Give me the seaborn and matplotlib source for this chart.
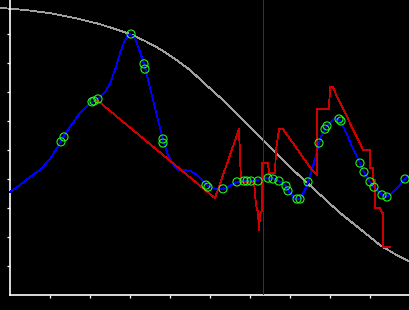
import matplotlib
matplotlib.use("Agg")
import matplotlib.pyplot as plt
import seaborn as sns
import pandas as pd

# ---- data ----
gray_x = [-0.25, 0.375, 1.0, 1.625, 2.25, 2.625, 3.0, 3.375, 3.75, 4.125, 4.5, 4.875,
          5.325, 5.825, 6.325, 7.0, 7.625, 8.25, 8.75, 9.25, 9.625, 10.0]
gray_y = [9.90, 9.83, 9.72, 9.55, 9.34, 9.17, 9.0, 8.76, 8.48, 8.14, 7.76, 7.28,
          6.72, 6.03, 5.34, 4.41, 3.62, 2.83, 2.28, 1.72, 1.41, 1.14]

blue_x = [0.0, 0.25, 0.5, 0.75, 1.0, 1.25, 1.375, 1.5, 1.75, 2.0, 2.2, 2.375, 2.5,
          2.625, 2.75, 2.875, 3.0, 3.125, 3.25, 3.375, 3.5, 3.625, 3.75, 3.825,
          3.925, 4.05, 4.2, 4.35, 4.5, 4.675, 4.825, 4.95, 5.125, 5.325, 5.5,
          5.675, 5.875, 6.05, 6.2, 6.325, 6.45, 6.575, 6.725, 6.9, 7.0, 7.125,
          7.25, 7.35, 7.45, 7.55, 7.65, 7.725, 7.8, 7.9, 8.0, 8.125, 8.25, 8.375,
          8.5, 8.625, 8.75, 8.85, 9.0, 9.125, 9.25, 9.4, 9.55, 9.7, 9.875, 10.0]
blue_y = [3.55, 3.79, 4.07, 4.31, 4.69, 5.24, 5.55, 5.79, 6.28, 6.62, 6.76, 7.0, 7.28,
          7.76, 8.34, 8.79, 9.0, 8.86, 8.38, 7.86, 7.14, 6.45, 5.76, 5.34,
          4.93, 4.55, 4.31, 4.31, 4.28, 4.14, 3.93, 3.76, 3.66, 3.66, 3.76,
          3.90, 3.93, 3.93, 3.97, 4.03, 4.03, 4.03, 3.93, 3.76, 3.52, 3.31,
          3.31, 3.55, 3.90, 4.31, 4.83, 5.24, 5.55, 5.79, 5.93, 6.10, 6.03, 5.69,
          5.28, 4.90, 4.55, 4.24, 3.90, 3.69, 3.52, 3.38, 3.52, 3.72, 4.0, 4.14]

red_x = [2.175, 5.125, 5.725, 5.775, 6.1, 6.15, 6.2, 6.225, 6.25, 6.3, 6.3, 6.45,
         6.475, 6.625, 6.65, 6.725, 6.825, 7.55, 7.675, 7.675, 7.975, 8.0, 8.075,
         8.125, 8.825, 9.0, 9.0, 9.075, 9.075, 9.125, 9.125, 9.25, 9.3, 9.325,
         9.325, 9.5]
red_y = [6.72, 3.34, 5.72, 3.90, 3.90, 3.10, 2.86, 2.24, 2.76, 2.93, 4.55, 4.55,
         4.21, 4.21, 5.0, 5.72, 5.72, 4.31, 4.14, 6.41, 6.41, 7.17, 7.17,
         7.0, 5.0, 5.0, 4.38, 4.38, 3.97, 3.97, 3.0, 3.0, 2.83, 2.83,
         1.66, 1.66]

pts_x = [1.275, 1.35, 2.05, 2.1, 2.2, 3.025, 3.35, 3.375, 3.825, 3.825, 4.9, 4.95,
         5.325, 5.675, 5.85, 5.925, 6.025, 6.2, 6.45, 6.575, 6.725, 6.9, 6.95,
         7.175, 7.25, 7.45, 7.725, 7.875, 7.925, 8.225, 8.275, 8.75, 8.85, 9.0,
         9.1, 9.3, 9.425, 9.875]
pts_y = [5.28, 5.45, 6.66, 6.69, 6.76, 9.0, 7.97, 7.79, 5.38, 5.24, 3.79, 3.72,
         3.66, 3.90, 3.93, 3.93, 3.93, 3.93, 4.03, 4.0, 3.93, 3.76, 3.59,
         3.31, 3.31, 3.90, 5.24, 5.72, 5.83, 6.07, 6.0, 4.55, 4.24, 3.90,
         3.72, 3.45, 3.38, 4.0]

vline_x = 6.325
x_ticks = [1, 2, 3, 4, 5, 6, 7, 8, 9, 10]
y_ticks = [1, 2, 3, 4, 5, 6, 7, 8, 9]

# ---- figure ----
sns.set_style("dark")
plt.rcParams["font.family"] = ["DejaVu Sans"]
fig = plt.figure(figsize=(4.1, 3.1), dpi=100, facecolor="black")
ax = fig.add_axes([0, 15 / 310, 1, 295 / 310])
ax.set_facecolor("black")
ax.grid(False)

lw = 0.6
sns.lineplot(x=gray_x, y=gray_y, ax=ax, color="#a0a0a0", linewidth=lw,
             estimator=None, sort=False, zorder=2, antialiased=False)
ax.axvline(vline_x, color="#800080", linewidth=lw, zorder=3, antialiased=False)
sns.lineplot(x=blue_x, y=blue_y, ax=ax, color="#0000ff", linewidth=lw,
             estimator=None, sort=False, zorder=4, antialiased=False)
sns.lineplot(x=red_x, y=red_y, ax=ax, color="#cc0000", linewidth=lw,
             estimator=None, sort=False, zorder=5, antialiased=False)
sns.scatterplot(x=pts_x, y=pts_y, ax=ax, marker="o", s=34, facecolor="none",
                edgecolor="#22ff22", linewidth=0.75, zorder=6)

ax.set_xlim(-0.25, 10)
ax.set_ylim(0, 295 / 29)
for side in ["top", "right"]:
    ax.spines[side].set_visible(False)
ax.spines["left"].set_position(("data", 0))
ax.spines["bottom"].set_bounds(0, 10)
for side in ["left", "bottom"]:
    ax.spines[side].set_color("white")
    ax.spines[side].set_linewidth(1.2)
ax.set_xticks(x_ticks)
ax.set_yticks(y_ticks)
ax.set_xticklabels([])
ax.set_yticklabels([])
ax.tick_params(axis="both", direction="out", length=2.5, width=0.9,
               color="white", left=True, bottom=True)
ax.set_xlabel("")
ax.set_ylabel("")

fig.savefig("out.png", dpi=100, facecolor="black")
